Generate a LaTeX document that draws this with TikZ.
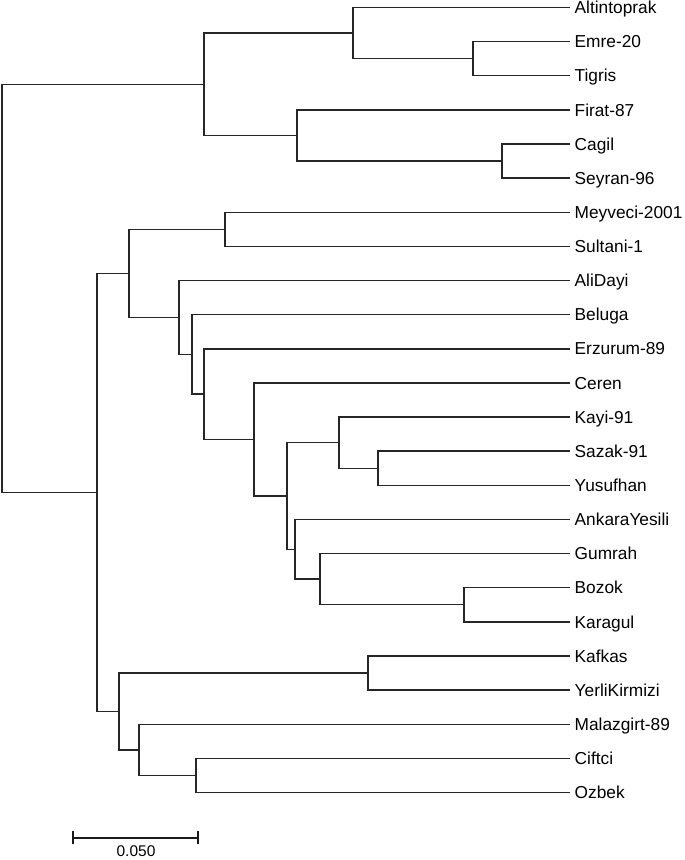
\documentclass[tikz,border=0pt]{standalone}
\usepackage{fontspec}
\setmainfont{Liberation Sans}

\begin{document}
\begin{tikzpicture}[x=1pt, y=-34.13pt,
	every node/.style={font=\fontsize{17.3}{20}\selectfont},
	leaf/.style={anchor=west, inner xsep=4.5pt, inner ysep=0pt, text height=12.3pt, text depth=0pt},
	branch/.style={line width=1.4pt, black!85},
	scalebar/.style={line width=2.3pt, black!90}]
	\useasboundingbox (0,-0.2198) rectangle (685,24.978);
	% leaves, one row each
	\foreach \name [count=\i from 0] in {Altintoprak,Emre-20,Tigris,Firat-87,Cagil,Seyran-96,Meyveci-2001,Sultani-1,AliDayi,Beluga,Erzurum-89,Ceren,Kayi-91,Sazak-91,Yusufhan,AnkaraYesili,Gumrah,Bozok,Karagul,Kafkas,YerliKirmizi,Malazgirt-89,Ciftci,Ozbek}
		\node[leaf] (l\i) at (570,\i) {\name};
	% inner nodes (x in px, y in rows)
	\coordinate (et) at (473,1.5);
	\coordinate (at) at (353,0.75);
	\coordinate (cs) at (502,4.5);
	\coordinate (fc) at (297,3.75);
	\coordinate (top) at (204,2.25);
	\coordinate (ms) at (225,6.5);
	\coordinate (sy) at (378,13.5);
	\coordinate (ks) at (339,12.75);
	\coordinate (bk) at (464,17.5);
	\coordinate (gb) at (320,16.75);
	\coordinate (ag) at (295,15.875);
	\coordinate (kh) at (287,14.3125);
	\coordinate (cg) at (254,12.656);
	\coordinate (ef) at (204,11.328);
	\coordinate (be) at (192,10.164);
	\coordinate (ad) at (179,9.082);
	\coordinate (mc) at (129,7.791);
	\coordinate (ky) at (368,19.5);
	\coordinate (co) at (196,22.5);
	\coordinate (mo) at (139,21.75);
	\coordinate (kl) at (119,20.625);
	\coordinate (low) at (97,14.208);
	\coordinate (root) at (2,8.229);
	% upper clade
	\draw[branch] (et) |- (l1.west) (et) |- (l2.west);
	\draw[branch] (at) |- (l0.west) (at) |- (et);
	\draw[branch] (cs) |- (l4.west) (cs) |- (l5.west);
	\draw[branch] (fc) |- (l3.west) (fc) |- (cs);
	\draw[branch] (top) |- (at) (top) |- (fc);
	% lower clade
	\draw[branch] (ms) |- (l6.west) (ms) |- (l7.west);
	\draw[branch] (sy) |- (l13.west) (sy) |- (l14.west);
	\draw[branch] (ks) |- (l12.west) (ks) |- (sy);
	\draw[branch] (bk) |- (l17.west) (bk) |- (l18.west);
	\draw[branch] (gb) |- (l16.west) (gb) |- (bk);
	\draw[branch] (ag) |- (l15.west) (ag) |- (gb);
	\draw[branch] (kh) |- (ks) (kh) |- (ag);
	\draw[branch] (cg) |- (l11.west) (cg) |- (kh);
	\draw[branch] (ef) |- (l10.west) (ef) |- (cg);
	\draw[branch] (be) |- (l9.west) (be) |- (ef);
	\draw[branch] (ad) |- (l8.west) (ad) |- (be);
	\draw[branch] (mc) |- (ms) (mc) |- (ad);
	\draw[branch] (ky) |- (l19.west) (ky) |- (l20.west);
	\draw[branch] (co) |- (l22.west) (co) |- (l23.west);
	\draw[branch] (mo) |- (l21.west) (mo) |- (co);
	\draw[branch] (kl) |- (ky) (kl) |- (mo);
	\draw[branch] (low) |- (mc) (low) |- (kl);
	\draw[branch] (root) |- (top) (root) |- (low);
	% scale bar
	\coordinate (s0) at (73,24.333);
	\coordinate (s1) at (198,24.333);
	\draw[scalebar] (s0) -- (s1);
	\draw[scalebar] ([yshift=6.5pt]s0) -- ([yshift=-6.5pt]s0);
	\draw[scalebar] ([yshift=6.5pt]s1) -- ([yshift=-6.5pt]s1);
	\node[font=\fontsize{15.5}{18}\selectfont, inner sep=0pt] (sl) at (136,24.73) {0.050};
\end{tikzpicture}
\end{document}
